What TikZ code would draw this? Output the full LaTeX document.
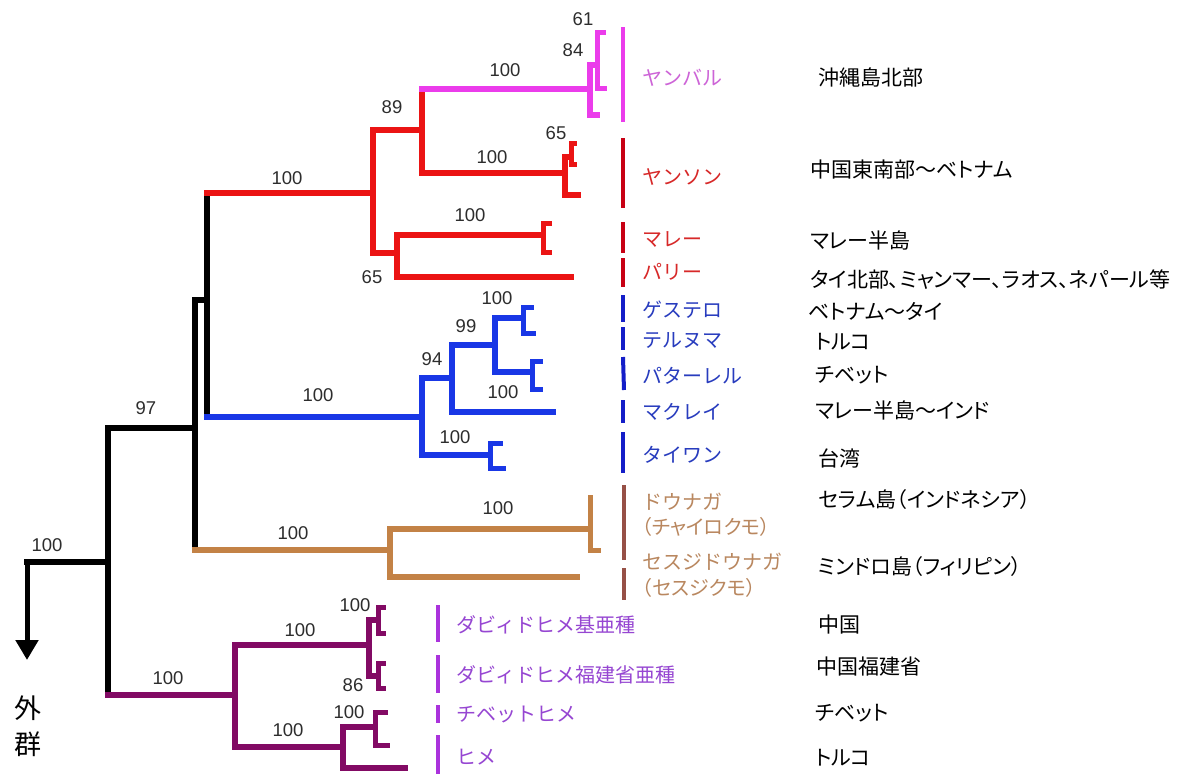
\documentclass[tikz,border=0pt]{standalone}
\usepackage{fontspec}
\setmainfont{Liberation Sans}
\newfontfamily\jp{Noto Sans CJK JP}
\newfontfamily\jpp[RawFeature=+palt]{Noto Sans CJK JP}
\usetikzlibrary{arrows.meta}
\definecolor{cblk}{RGB}{0,0,0}
\definecolor{cred}{RGB}{235,20,20}
\definecolor{cmag}{RGB}{235,60,235}
\definecolor{cblue}{RGB}{25,55,230}
\definecolor{cbrown}{RGB}{195,130,70}
\definecolor{cpur}{RGB}{130,10,100}
\definecolor{lmag}{RGB}{205,100,215}
\definecolor{lred}{RGB}{215,40,40}
\definecolor{lblue}{RGB}{40,60,190}
\definecolor{lbrown}{RGB}{185,135,95}
\definecolor{bbrown}{RGB}{150,80,70}
\definecolor{bviol}{RGB}{170,50,220}
\definecolor{lviol}{RGB}{150,70,210}
\definecolor{bred}{RGB}{200,0,20}
\definecolor{bblue}{RGB}{20,30,200}
\definecolor{numc}{RGB}{45,45,45}
\newcommand{\kids}[4]{%
  \draw[#1] (#2 |- #3) -- (#2 |- #4);
  \draw[#1] (#2 |- #3) -- (#3);
  \draw[#1] (#2 |- #4) -- (#4);}
\tikzset{
  edge/.style={line width=6.5pt, line cap=rect},
  tipb/.style={line width=5pt, line cap=rect},
  bar/.style={line width=4pt},
  num/.style={font=\fontsize{18.5}{18.5}\selectfont, inner sep=0pt, text=numc},
  lab/.style={font=\jp\fontsize{20}{20}\selectfont, anchor=west, inner sep=0pt},
  labp/.style={font=\jpp\fontsize{20}{20}\selectfont, anchor=west, inner sep=0pt},
  reg/.style={font=\jpp\fontsize{21}{21}\selectfont, anchor=west, inner sep=0pt, text=black},
}
\begin{document}
\begin{tikzpicture}[x=1pt,y=-1pt]
\fill[white] (0,0) rectangle (1192,774);
\useasboundingbox (0,0) rectangle (1192,774);
% ---------- coordinates
\coordinate (R) at (27,562);
\coordinate (AT) at (27,660);
\coordinate (A) at (108,562);
\coordinate (B) at (195,428);
\coordinate (C) at (207,300);
\coordinate (BR) at (390,550);
\coordinate (P) at (235,695);
\coordinate (RD) at (373,193);
\coordinate (BL) at (422,417);
\coordinate (E) at (422,130);
\coordinate (F) at (397,253);
\coordinate (MG) at (590,89);
\coordinate (MG1) at (597,65);
\coordinate (yb1) at (603,32);
\coordinate (yb2) at (604,88);
\coordinate (yb3) at (597,115);
\coordinate (YS) at (565,173);
\coordinate (YS1) at (571,157);
\coordinate (ys1) at (574,143);
\coordinate (ys2) at (574,164);
\coordinate (ys3) at (578,195);
\coordinate (MA) at (543,235);
\coordinate (ma1) at (549,223);
\coordinate (ma2) at (549,252);
\coordinate (tPA) at (571,277);
\coordinate (BL1) at (452,378);
\coordinate (TW) at (490,455);
\coordinate (BL2) at (495,345);
\coordinate (tMK) at (553,412);
\coordinate (GT) at (523,318);
\coordinate (gt1) at (531,307);
\coordinate (gt2) at (533,333);
\coordinate (PT) at (532,372);
\coordinate (pt1) at (540,361);
\coordinate (pt2) at (540,389);
\coordinate (tw1) at (500,443);
\coordinate (tw2) at (503,468);
\coordinate (DN) at (590,529);
\coordinate (dn1) at (590,497);
\coordinate (dn2) at (598,550);
\coordinate (tSJ) at (577,577);
\coordinate (P1) at (369,645);
\coordinate (P2) at (343,747);
\coordinate (P1a) at (378,620);
\coordinate (p1a1) at (383,607);
\coordinate (p1a2) at (383,633);
\coordinate (P1b) at (378,676);
\coordinate (p1b1) at (383,663);
\coordinate (p1b2) at (383,688);
\coordinate (P2a) at (375,727);
\coordinate (p2a1) at (385,712);
\coordinate (p2a2) at (387,745);
\coordinate (tHM) at (405,768);
% ---------- black backbone
\draw[cblk, line width=5pt, -{Triangle[width=22pt,length=20pt]}] (R) -- (AT);
\draw[edge,cblk] (R) -- (A);
\draw[edge,cblk] (A |- B) -- (A |- P);
\draw[edge,cblk] (A |- B) -- (B);
\draw[edge,cblk] (B |- C) -- (B |- BR);
\draw[edge,cblk] (B |- C) -- (C);
\draw[edge,cblk] (C |- RD) -- (C |- BL);
% ---------- red / magenta
\draw[edge,cred] (C |- RD) -- (RD);
\draw[edge,cred] (RD |- E) -- (RD |- F);
\draw[edge,cred] (RD |- E) -- (E);
\draw[edge,cred] (RD |- F) -- (F);
\draw[edge,cred] (E |- MG) -- (E |- YS);
\draw[edge,cmag] (E |- MG) -- (MG);
\draw[edge,cred] (E |- YS) -- (YS);
\kids{edge,cmag}{MG}{MG1}{yb3}
\kids{tipb,cmag}{MG1}{yb1}{yb2}
\kids{edge,cred}{YS}{YS1}{ys3}
\kids{tipb,cred}{YS1}{ys1}{ys2}
\kids{edge,cred}{F}{MA}{tPA}
\kids{tipb,cred}{MA}{ma1}{ma2}
% ---------- blue
\draw[edge,cblue] (C |- BL) -- (BL);
\kids{edge,cblue}{BL}{BL1}{TW}
\kids{edge,cblue}{BL1}{BL2}{tMK}
\kids{edge,cblue}{BL2}{GT}{PT}
\kids{tipb,cblue}{GT}{gt1}{gt2}
\kids{tipb,cblue}{PT}{pt1}{pt2}
\kids{tipb,cblue}{TW}{tw1}{tw2}
% ---------- brown
\draw[edge,cbrown] (B |- BR) -- (BR);
\kids{edge,cbrown}{BR}{DN}{tSJ}
\kids{tipb,cbrown}{DN}{dn1}{dn2}
% ---------- purple
\draw[edge,cpur] (A |- P) -- (P);
\kids{edge,cpur}{P}{P1}{P2}
\kids{edge,cpur}{P1}{P1a}{P1b}
\kids{tipb,cpur}{P1a}{p1a1}{p1a2}
\kids{tipb,cpur}{P1b}{p1b1}{p1b2}
\kids{edge,cpur}{P2}{P2a}{tHM}
\kids{tipb,cpur}{P2a}{p2a1}{p2a2}
% ---------- support values
\node[num] (n1) at (47,545) {100};
\node[num] (n2) at (146,408) {97};
\node[num] (n3) at (287,178) {100};
\node[num] (n4) at (392,107) {89};
\node[num] (n5) at (505,70) {100};
\node[num] (n6) at (583,19) {61};
\node[num] (n7) at (573,50) {84};
\node[num] (n8) at (492,157) {100};
\node[num] (n9) at (556,133) {65};
\node[num] (n10) at (470,215) {100};
\node[num] (n11) at (372,277) {65};
\node[num] (n12) at (318,395) {100};
\node[num] (n13) at (432,359) {94};
\node[num] (n14) at (466,326) {99};
\node[num] (n15) at (497,298) {100};
\node[num] (n16) at (503,392) {100};
\node[num] (n17) at (455,437) {100};
\node[num] (n18) at (293,533) {100};
\node[num] (n19) at (498,508) {100};
\node[num] (n20) at (168,678) {100};
\node[num] (n21) at (300,630) {100};
\node[num] (n22) at (355,605) {100};
\node[num] (n23) at (353,685) {86};
\node[num] (n24) at (288,730) {100};
\node[num] (n25) at (349,712) {100};
% ---------- outgroup label
\node[font=\jp\fontsize{27}{27}\selectfont, inner sep=0pt] (og1) at (28,708) {外};
\node[font=\jp\fontsize{27}{27}\selectfont, inner sep=0pt] (og2) at (28,744) {群};
% ---------- coloured bars
\draw[bar,cmag] (623,27) -- (623,122);
\draw[bar,bred] (623,138) -- (623,208);
\draw[bar,bred] (623,222) -- (623,253);
\draw[bar,bred] (623,258) -- (623,287);
\draw[bar,bblue] (623,295) -- (623,322);
\draw[bar,bblue] (623,327) -- (623,350);
\draw[bar,bblue] (623,357) -- (624,390);
\draw[bar,bblue] (623,400) -- (623,423);
\draw[bar,bblue] (623,432) -- (623,473);
\draw[bar,bbrown] (624,485) -- (624,560);
\draw[bar,bbrown] (624,568) -- (624,600);
\draw[bar,bviol] (438,605) -- (438,642);
\draw[bar,bviol] (438,655) -- (438,693);
\draw[bar,bviol] (438,705) -- (438,723);
\draw[bar,bviol] (438,735) -- (438,774);
% ---------- taxon labels
\node[lab,text=lmag] (t1) at (642,78) {ヤンバル};
\node[lab,text=lred] (t2) at (642,177) {ヤンソン};
\node[lab,text=lred] (t3) at (642,240) {マレー};
\node[lab,text=lred] (t4) at (642,272) {パリー};
\node[lab,text=lblue] (t5) at (642,310) {ゲステロ};
\node[lab,text=lblue] (t6) at (642,340) {テルヌマ};
\node[lab,text=lblue] (t7) at (642,376) {パターレル};
\node[lab,text=lblue] (t8) at (642,412) {マクレイ};
\node[lab,text=lblue] (t9) at (642,455) {タイワン};
\node[lab,text=lbrown] (t10) at (642,502) {ドウナガ};
\node[labp,text=lbrown] (t11) at (642,527) {（チャイロクモ）};
\node[lab,text=lbrown] (t12) at (642,562) {セスジドウナガ};
\node[labp,text=lbrown] (t13) at (642,588) {（セスジクモ）};
\node[lab,text=lviol] (t14) at (456,625) {ダビィドヒメ基亜種};
\node[lab,text=lviol] (t15) at (456,675) {ダビィドヒメ福建省亜種};
\node[lab,text=lviol] (t16) at (456,715) {チベットヒメ};
\node[lab,text=lviol] (t17) at (456,757) {ヒメ};
% ---------- distribution
\node[reg] (d1) at (818,77) {沖縄島北部};
\node[reg] (d2) at (810,170) {中国東南部〜ベトナム};
\node[reg] (d3) at (810,240) {マレー半島};
\node[reg] (d4) at (810,280) {タイ北部、ミャンマー、ラオス、ネパール等};
\node[reg] (d5) at (808,311) {ベトナム〜タイ};
\node[reg] (d6) at (815,342) {トルコ};
\node[reg] (d7) at (815,375) {チベット};
\node[reg] (d8) at (815,410) {マレー半島〜インド};
\node[reg] (d9) at (818,458) {台湾};
\node[reg] (d10) at (818,500) {セラム島（インドネシア）};
\node[reg] (d11) at (818,567) {ミンドロ島（フィリピン）};
\node[reg] (d12) at (818,625) {中国};
\node[reg] (d13) at (816,667) {中国福建省};
\node[reg] (d14) at (815,713) {チベット};
\node[reg] (d15) at (815,758) {トルコ};
\end{tikzpicture}
\end{document}
